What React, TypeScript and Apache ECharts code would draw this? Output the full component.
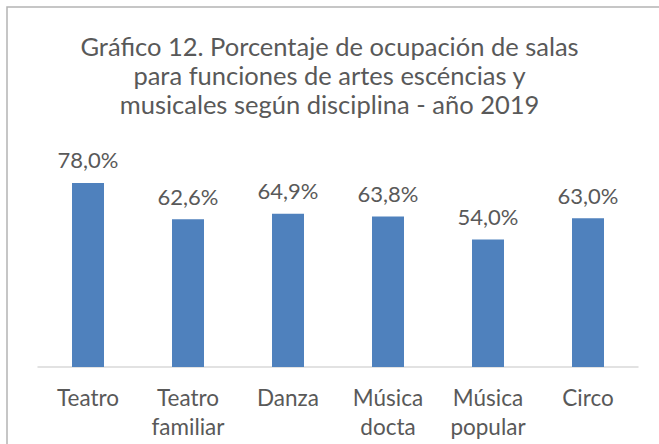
import React, { useEffect, useRef } from "react";
import * as echarts from "echarts";

const titleLines = [
  "Gráfico 12. Porcentaje de ocupación de salas",
  "para funciones de artes escéncias y",
  "musicales según disciplina - año 2019",
];
const categories = ["Teatro", "Teatro\nfamiliar", "Danza", "Música\ndocta", "Música\npopular", "Circo"];
const values = [78.0, 62.6, 64.9, 63.8, 54.0, 63.0];

const FONT = "Lato";
const TEXT = "#595959";

export default function App() {
  const ref = useRef<HTMLDivElement>(null);
  useEffect(() => {
    if (!ref.current) return;
    const chart = echarts.init(ref.current, null, { renderer: "svg" });
    chart.setOption({
      animation: false,
      backgroundColor: "#ffffff",
      title: {
        text: titleLines.join("\n"),
        left: "center",
        top: 31,
        textStyle: {
          fontFamily: FONT,
          fontSize: 25.5,
          fontWeight: "normal",
          color: TEXT,
          lineHeight: 29,
        },
        padding: 0,
      },
      graphic: [
        {
          type: "rect",
          shape: { x: 7, y: 7, width: 700, height: 500 },
          style: { fill: "none", stroke: "#b4b4b4", lineWidth: 1.5 },
          silent: true,
        },
      ],
      grid: { left: 38, right: 21, top: 131, bottom: 77 },
      xAxis: {
        type: "category",
        data: categories,
        axisLine: { lineStyle: { color: "#d9d9d9", width: 1.5 } },
        axisTick: { show: false },
        axisLabel: {
          fontFamily: FONT,
          fontSize: 22.5,
          color: TEXT,
          lineHeight: 29,
          margin: 16,
          interval: 0,
        },
      },
      yAxis: {
        type: "value",
        min: 0,
        max: 100,
        show: false,
        splitLine: { show: false },
      },
      series: [
        {
          type: "bar",
          data: values,
          barWidth: 32,
          itemStyle: { color: "#4f81bd" },
          label: {
            show: true,
            position: "top",
            distance: 12,
            fontFamily: FONT,
            fontSize: 22,
            color: TEXT,
            formatter: (p: any) => p.value.toFixed(1).replace(".", ",") + "%",
          },
        },
      ],
    });
    return () => chart.dispose();
  }, []);
  return (
    <div
      ref={ref}
      style={{ position: "absolute", left: 0, top: 0, width: 659, height: 444 }}
    />
  );
}
